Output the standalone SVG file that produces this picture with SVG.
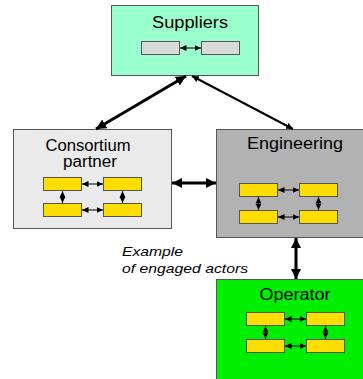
<svg xmlns="http://www.w3.org/2000/svg" width="363" height="379" viewBox="0 0 363 379">
<defs>
<marker id="big" viewBox="0 0 10 10" refX="10" refY="5" markerWidth="3.4" markerHeight="3.4" orient="auto-start-reverse" markerUnits="strokeWidth"><path d="M0,0 L10,5 L0,10 z" fill="#000"/></marker>
<marker id="sm" viewBox="0 0 10 10" refX="10" refY="5" markerWidth="6.5" markerHeight="6.5" orient="auto-start-reverse" markerUnits="userSpaceOnUse"><path d="M0,0.5 L10,5 L0,9.5 z" fill="#000"/></marker>
</defs>
<style>
.box{stroke:#555;stroke-width:1}
.t{font-family:"Liberation Sans",Arial,sans-serif;font-size:16px;fill:#000;text-anchor:middle}
.y{fill:#ffdd00;stroke:#555;stroke-width:1}
.g{fill:#d9d9d9;stroke:#555;stroke-width:1}
.s{stroke:#000;stroke-width:1;fill:none;marker-start:url(#sm);marker-end:url(#sm)}
.c{stroke:#000;stroke-width:3;fill:none;marker-start:url(#big);marker-end:url(#big)}
.it{font-family:"Liberation Sans",Arial,sans-serif;font-size:13px;font-style:italic;fill:#000}
</style>
<g id="suppliers">
<rect class="box" x="111.5" y="5.5" width="147" height="70" fill="#99ffcc"/>
<text class="t" x="190" y="28" textLength="76" lengthAdjust="spacingAndGlyphs">Suppliers</text>
<rect class="g" x="141.5" y="41.5" width="38" height="13"/>
<rect class="g" x="201.5" y="41.5" width="38" height="13"/>
<line class="s" x1="180" y1="48" x2="201" y2="48"/>
</g>
<g id="consortium">
<rect class="box" x="13.5" y="129.5" width="158" height="99" fill="#eaeaea"/>
<text class="t" x="88" y="151" textLength="85" lengthAdjust="spacingAndGlyphs">Consortium</text>
<text class="t" x="90" y="167" textLength="54" lengthAdjust="spacingAndGlyphs">partner</text>
<rect class="y" x="43.5" y="177.5" width="38" height="13"/>
<rect class="y" x="103.5" y="177.5" width="38" height="13"/>
<rect class="y" x="43.5" y="203.5" width="38" height="13"/>
<rect class="y" x="103.5" y="203.5" width="38" height="13"/>
<line class="s" x1="82" y1="184" x2="103" y2="184"/>
<line class="s" x1="82" y1="210" x2="103" y2="210"/>
<line class="s" x1="62.5" y1="191" x2="62.5" y2="203"/>
<line class="s" x1="122.5" y1="191" x2="122.5" y2="203"/>
</g>
<g id="engineering">
<rect class="box" x="216.5" y="129.5" width="150" height="108" fill="#b2b2b2"/>
<text class="t" x="295" y="149" textLength="96" lengthAdjust="spacingAndGlyphs">Engineering</text>
<rect class="y" x="239.5" y="183.5" width="38" height="13"/>
<rect class="y" x="299.5" y="183.5" width="38" height="13"/>
<rect class="y" x="239.5" y="210.5" width="38" height="13"/>
<rect class="y" x="299.5" y="210.5" width="38" height="13"/>
<line class="s" x1="278" y1="190" x2="299" y2="190"/>
<line class="s" x1="278" y1="217" x2="299" y2="217"/>
<line class="s" x1="258.5" y1="197" x2="258.5" y2="210"/>
<line class="s" x1="318.5" y1="197" x2="318.5" y2="210"/>
</g>
<g id="operator">
<rect class="box" x="216.5" y="279.5" width="150" height="105" fill="#00ee00"/>
<text class="t" x="295" y="300" textLength="71" lengthAdjust="spacingAndGlyphs">Operator</text>
<rect class="y" x="246.5" y="312.5" width="38" height="13"/>
<rect class="y" x="306.5" y="312.5" width="38" height="13"/>
<rect class="y" x="246.5" y="339.5" width="38" height="13"/>
<rect class="y" x="306.5" y="339.5" width="38" height="13"/>
<line class="s" x1="285" y1="319" x2="306" y2="319"/>
<line class="s" x1="285" y1="346" x2="306" y2="346"/>
<line class="s" x1="265.5" y1="326" x2="265.5" y2="339"/>
<line class="s" x1="325.5" y1="326" x2="325.5" y2="339"/>
</g>
<g id="label">
<text class="it" x="122" y="256" textLength="61" lengthAdjust="spacingAndGlyphs">Example</text>
<text class="it" x="122" y="273" textLength="126" lengthAdjust="spacingAndGlyphs">of engaged actors</text>
</g>
<g id="connectors">
<line class="c" x1="186" y1="76" x2="96" y2="129"/>
<line class="c" x1="192" y1="76" x2="293" y2="129" style="stroke-width:2"/>
<line class="c" x1="172" y1="183" x2="216" y2="183"/>
<line class="c" x1="296" y1="238" x2="296" y2="279"/>
</g>
</svg>
